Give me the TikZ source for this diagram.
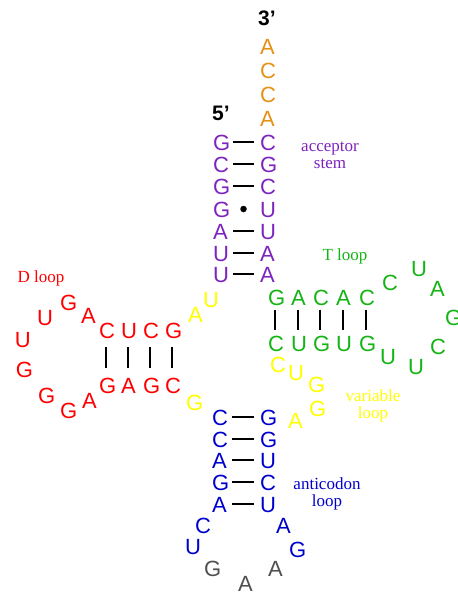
\documentclass[tikz,border=0pt]{standalone}
\usepackage{fontspec}
\setmainfont{Liberation Serif}
\setsansfont{Liberation Sans}
\definecolor{accpurple}{RGB}{125,35,190}
\definecolor{ccaorange}{RGB}{230,145,20}
\definecolor{tgreen}{RGB}{20,180,20}
\definecolor{varyellow}{RGB}{255,255,0}
\definecolor{dred}{RGB}{255,0,0}
\definecolor{acblue}{RGB}{0,0,205}
\definecolor{acgray}{RGB}{80,80,80}
\tikzset{
  base/.style={font=\sffamily\fontsize{22}{22}\selectfont, inner sep=0pt,
    text height=16pt, text depth=0pt, text width=14pt, align=center, anchor=center},
  prime/.style={font=\sffamily\bfseries\fontsize{21}{21}\selectfont, inner sep=0pt, anchor=center},
  lbl/.style={font=\rmfamily\fontsize{17}{17}\selectfont, inner sep=0pt, anchor=center, align=center},
  hbond/.style={black, line width=1.2pt, shorten <=6pt, shorten >=6pt},
  dbond/.style={black, line width=1.2pt, shorten <=9pt, shorten >=9pt},
  tbond/.style={black, line width=1.2pt, shorten <=4.5pt, shorten >=4.5pt},
  wobble/.style={circle, fill=black, inner sep=0pt, minimum size=6.5pt},
}
\begin{document}
\begin{tikzpicture}[x=1pt,y=-1pt]
\useasboundingbox (0,0) rectangle (458,592);

% ends
\node[prime] (three) at (267,18) {3’};
\node[prime] (five) at (221,113) {5’};

% CCA tail
\node[base, text=ccaorange] (t1) at (267,46) {A};
\node[base, text=ccaorange] (t2) at (267,70) {C};
\node[base, text=ccaorange] (t3) at (267,94) {C};
\node[base, text=ccaorange] (t4) at (267,118) {A};

% acceptor stem
\foreach \i/\y/\l/\r in {1/142/G/C, 2/164/C/G, 3/186/G/C, 4/209/G/U, 5/231/A/U, 6/253/U/A, 7/274/U/A} {
  \node[base, text=accpurple] (al\i) at (220,\y) {\l};
  \node[base, text=accpurple] (ar\i) at (267,\y) {\r};
}
\foreach \i in {1,2,3,5,6,7} \draw[hbond] (al\i) -- (ar\i);
\path (al4) -- node[wobble] (dot) {} (ar4);
\node[lbl, text=accpurple] (acclbl) at (330,155) {acceptor\\stem};

% D arm
\node[lbl, text=dred] (dlbl) at (41,278) {D loop};
\foreach \i/\x/\t/\b in {1/106/C/G, 2/128/U/A, 3/150/C/G, 4/172/G/C} {
  \node[base, text=dred] (dt\i) at (\x,330) {\t};
  \node[base, text=dred] (db\i) at (\x,385) {\b};
  \draw[dbond] (dt\i) -- (db\i);
}
\node[base, text=dred] (dl1) at (88,315) {A};
\node[base, text=dred] (dl2) at (67,302) {G};
\node[base, text=dred] (dl3) at (44,317) {U};
\node[base, text=dred] (dl4) at (22,339) {U};
\node[base, text=dred] (dl5) at (23,369) {G};
\node[base, text=dred] (dl6) at (45,395) {G};
\node[base, text=dred] (dl7) at (67,410) {G};
\node[base, text=dred] (dl8) at (89,400) {A};

% connecting bases
\node[base, text=varyellow] (j1) at (210,299) {U};
\node[base, text=varyellow] (j2) at (195,314) {A};
\node[base, text=varyellow] (j3) at (193,402) {G};

% T arm
\node[lbl, text=tgreen] (tlbl) at (345,256) {T loop};
\foreach \i/\x/\t/\b in {1/275/G/C, 2/298/A/U, 3/320/C/G, 4/343/A/U, 5/366/C/G} {
  \node[base, text=tgreen] (tt\i) at (\x,297) {\t};
  \node[base, text=tgreen] (tb\i) at (\x,343) {\b};
  \draw[tbond] (tt\i) -- (tb\i);
}
\node[base, text=tgreen] (tl1) at (389,282) {C};
\node[base, text=tgreen] (tl2) at (418,268) {U};
\node[base, text=tgreen] (tl3) at (437,288) {A};
\node[base, text=tgreen] (tl4) at (452,317) {G};
\node[base, text=tgreen] (tl5) at (437,346) {C};
\node[base, text=tgreen] (tl6) at (415,366) {U};
\node[base, text=tgreen] (tl7) at (387,356) {U};

% variable loop
\node[base, text=varyellow] (v1) at (277,364) {C};
\node[base, text=varyellow] (v2) at (295,372) {U};
\node[base, text=varyellow] (v3) at (315,384) {G};
\node[base, text=varyellow] (v4) at (316,408) {G};
\node[base, text=varyellow] (v5) at (295,420) {A};
\node[lbl, text=varyellow] (vlbl) at (373,406) {variable\\loop};

% anticodon arm
\foreach \i/\y/\l/\r in {1/417/C/G, 2/439/C/G, 3/460/A/U, 4/482/G/C, 5/504/A/U} {
  \node[base, text=acblue] (cl\i) at (219,\y) {\l};
  \node[base, text=acblue] (cr\i) at (267,\y) {\r};
  \draw[hbond] (cl\i) -- (cr\i);
}
\node[base, text=acblue] (cx1) at (202,525) {C};
\node[base, text=acblue] (cx2) at (192,546) {U};
\node[base, text=acgray] (cx3) at (211,568) {G};
\node[base, text=acgray] (cx4) at (245,583) {A};
\node[base, text=acgray] (cx5) at (275,568) {A};
\node[base, text=acblue] (cx6) at (296,549) {G};
\node[base, text=acblue] (cx7) at (283,525) {A};
\node[lbl, text=acblue] (aclbl) at (327,494) {anticodon\\loop};
\end{tikzpicture}
\end{document}
